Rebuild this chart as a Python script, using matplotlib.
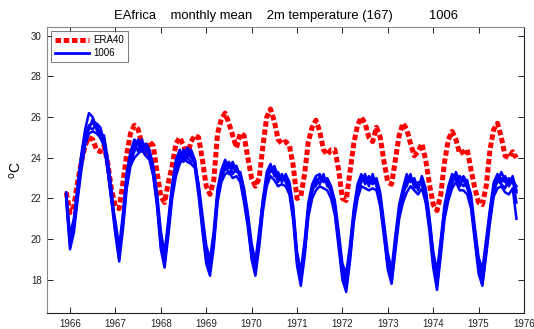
import numpy as np
import matplotlib
matplotlib.use('Agg')
import matplotlib.pyplot as plt

plt.rcParams['font.family'] = ['Liberation Sans', 'DejaVu Sans']

# monthly time axis 1966-1975
start_year = 1966
n_months = 120
years = [1966, 1967, 1968, 1969, 1970, 1971, 1972, 1973, 1974, 1975, 1976]
yticks = [18, 20, 22, 24, 26, 28, 30]

# ERA40 monthly mean 2m temperature (deg C)
era40 = [
    22.3, 21.3, 21.6, 22.8, 23.8, 24.6, 25.0, 24.9, 24.4, 24.3, 24.6, 23.7,
    22.4, 21.6, 21.5, 22.8, 24.2, 25.2, 25.6, 25.4, 24.7, 24.2, 24.8, 24.6,
    23.3, 22.1, 21.8, 22.8, 23.6, 24.7, 25.0, 24.6, 24.1, 24.8, 25.1, 25.0,
    23.9, 22.6, 22.2, 22.9, 25.2, 25.9, 26.2, 25.7, 25.1, 24.5, 25.2, 25.1,
    24.0, 23.0, 22.6, 23.0, 24.6, 26.0, 26.4, 25.8, 24.9, 24.7, 24.8, 24.6,
    23.6, 22.0, 22.1, 23.2, 24.8, 25.5, 25.85, 25.3, 24.4, 24.15, 24.4, 24.4,
    23.4, 22.0, 21.9, 23.3, 24.7, 25.6, 26.0, 25.7, 25.0, 24.8, 25.5, 25.0,
    23.8, 22.8, 22.7, 23.9, 25.1, 25.7, 25.4, 24.7, 24.1, 24.3, 24.7, 23.9,
    22.7, 21.7, 21.4, 22.2, 23.8, 24.9, 25.3, 24.9, 24.2, 24.3, 24.4, 23.4,
    22.5, 21.8, 21.7, 22.6, 24.4, 25.4, 25.7, 25.0, 24.1, 24.0, 24.3, 24.0,
]

# experiment 1006 ensemble members
member_a = [
    22.1, 19.8, 20.6, 22.3, 23.8, 25.0, 25.6, 25.7, 25.5, 25.3, 24.9, 23.7,
    22.2, 20.6, 19.2, 20.9, 22.9, 24.0, 24.5, 24.8, 24.6, 24.5, 24.2, 23.4,
    22.0, 19.9, 18.9, 20.6, 22.4, 23.5, 24.0, 24.3, 24.3, 24.0, 23.8, 22.4,
    20.8, 19.2, 18.6, 20.0, 22.2, 23.1, 23.5, 23.7, 23.5, 23.4, 23.1, 22.2,
    21.0, 19.4, 18.5, 20.0, 21.7, 23.0, 23.5, 23.4, 23.0, 23.0, 23.0, 22.6,
    21.3, 19.0, 18.0, 19.5, 21.5, 22.4, 22.8, 23.0, 23.0, 22.8, 22.4, 21.6,
    20.0, 18.4, 17.8, 19.3, 21.2, 22.4, 23.0, 22.9, 22.8, 23.0, 22.8, 22.0,
    20.5, 18.9, 18.1, 19.8, 21.4, 22.2, 22.8, 23.0, 22.7, 22.6, 22.9, 22.2,
    20.8, 19.0, 17.9, 19.6, 21.4, 22.3, 22.9, 23.2, 23.0, 22.9, 22.6, 21.9,
    20.3, 18.7, 18.0, 19.6, 21.2, 22.5, 23.0, 23.0, 22.8, 22.9, 23.0, 21.8,
]
member_b = [
    22.3, 20.2, 21.0, 22.6, 24.2, 25.4, 26.2, 26.0, 25.4, 25.0, 24.6, 23.4,
    21.8, 20.9, 19.6, 21.3, 23.3, 24.3, 24.9, 24.7, 24.3, 24.7, 24.4, 23.6,
    22.3, 20.4, 19.3, 21.0, 22.7, 23.9, 24.4, 24.0, 24.5, 24.2, 23.6, 22.7,
    21.2, 19.7, 19.0, 20.4, 22.5, 23.4, 23.9, 23.5, 23.8, 23.3, 23.3, 22.5,
    21.3, 19.8, 18.9, 20.4, 22.0, 23.3, 23.7, 23.1, 23.3, 22.8, 23.2, 22.8,
    21.6, 19.4, 18.4, 19.9, 21.8, 22.7, 23.1, 23.2, 22.8, 23.0, 22.6, 21.9,
    20.4, 18.8, 18.3, 19.7, 21.5, 22.7, 23.2, 22.7, 23.1, 22.8, 23.0, 22.3,
    20.8, 19.3, 18.5, 20.2, 21.7, 22.5, 23.2, 22.8, 23.0, 22.4, 23.1, 22.5,
    21.1, 19.4, 18.4, 20.0, 21.7, 22.6, 23.2, 23.0, 22.6, 23.1, 22.8, 22.2,
    20.6, 19.1, 18.5, 20.0, 21.5, 22.8, 23.2, 22.8, 23.1, 22.7, 23.1, 22.3,
]
member_c = [
    21.9, 19.5, 20.3, 21.9, 23.4, 24.6, 25.2, 25.3, 25.2, 25.0, 24.6, 23.3,
    21.8, 20.2, 18.9, 20.5, 22.5, 23.6, 24.0, 24.2, 24.4, 24.1, 23.9, 23.1,
    21.6, 19.5, 18.6, 20.2, 22.0, 23.1, 23.7, 24.0, 23.8, 23.7, 23.5, 22.1,
    20.4, 18.8, 18.2, 19.6, 21.8, 22.8, 23.2, 23.3, 23.0, 23.1, 22.8, 21.8,
    20.6, 19.0, 18.2, 19.6, 21.4, 22.6, 23.1, 22.9, 22.6, 22.7, 22.6, 22.2,
    20.9, 18.7, 17.7, 19.1, 21.1, 22.0, 22.4, 22.6, 22.5, 22.4, 22.0, 21.2,
    19.6, 18.0, 17.4, 18.9, 20.8, 22.0, 22.6, 22.5, 22.4, 22.5, 22.4, 21.6,
    20.1, 18.5, 17.8, 19.4, 21.0, 21.8, 22.3, 22.6, 22.4, 22.2, 22.5, 21.8,
    20.4, 18.6, 17.5, 19.2, 21.0, 21.9, 22.5, 22.8, 22.4, 22.4, 22.2, 21.5,
    19.9, 18.3, 17.7, 19.2, 20.8, 22.1, 22.5, 22.6, 22.3, 22.2, 22.5, 21.0,
]
member_d = [
    22.0, 19.7, 20.8, 22.5, 24.0, 25.2, 25.4, 25.9, 25.6, 25.1, 25.1, 23.9,
    22.4, 20.5, 19.0, 21.1, 23.1, 24.2, 24.8, 24.3, 24.9, 24.3, 24.2, 23.2,
    21.8, 19.7, 18.8, 20.8, 22.6, 23.3, 24.3, 23.8, 24.1, 24.4, 23.9, 22.3,
    20.6, 19.0, 18.4, 20.2, 22.3, 22.9, 23.7, 23.2, 23.6, 23.6, 23.0, 22.0,
    20.8, 19.2, 18.3, 20.2, 21.9, 22.8, 23.6, 23.3, 22.8, 23.2, 22.8, 22.4,
    21.1, 18.9, 17.9, 19.7, 21.6, 22.3, 23.0, 22.7, 23.2, 22.6, 22.5, 21.4,
    19.8, 18.2, 17.6, 19.1, 21.0, 22.3, 22.8, 23.2, 22.6, 23.2, 22.6, 21.8,
    20.3, 18.7, 17.9, 19.6, 21.2, 22.4, 22.6, 23.2, 22.5, 22.8, 22.7, 22.0,
    20.6, 18.8, 17.7, 19.4, 21.2, 22.1, 22.7, 23.3, 22.8, 22.6, 22.9, 21.7,
    20.1, 18.5, 17.8, 19.4, 21.0, 22.3, 22.9, 22.7, 22.5, 23.0, 22.8, 22.4,
]
member_e = [
    22.2, 20.0, 20.5, 22.1, 23.6, 24.8, 25.5, 25.4, 25.7, 25.5, 24.8, 23.6,
    22.0, 20.4, 19.3, 20.7, 22.8, 23.8, 24.3, 24.9, 24.5, 24.6, 24.0, 23.3,
    21.9, 20.1, 19.0, 20.4, 22.2, 23.7, 23.9, 24.4, 24.0, 23.8, 23.9, 22.6,
    20.9, 19.3, 18.7, 19.8, 22.0, 23.2, 23.4, 23.8, 23.2, 23.5, 23.2, 22.3,
    21.1, 19.5, 18.6, 19.8, 21.6, 23.1, 23.3, 23.6, 23.1, 22.9, 23.1, 22.5,
    21.4, 19.1, 18.1, 19.3, 21.3, 22.5, 22.6, 23.1, 22.9, 22.9, 22.3, 21.7,
    20.1, 18.5, 18.0, 19.5, 21.3, 22.5, 22.9, 23.0, 22.9, 22.7, 22.9, 22.1,
    20.6, 19.0, 18.3, 19.9, 21.5, 22.1, 23.0, 22.9, 22.9, 22.5, 23.0, 22.3,
    20.9, 19.2, 18.1, 19.8, 21.5, 22.4, 23.0, 22.9, 23.1, 22.9, 22.5, 22.0,
    20.4, 18.9, 18.2, 19.8, 21.3, 22.6, 22.8, 23.3, 22.9, 22.6, 22.9, 22.6,
]
members = [member_a, member_b, member_c, member_d, member_e]

t = start_year - 1 / 12 + np.arange(n_months) / 12

fig = plt.figure(figsize=(5.34, 3.29), dpi=100, facecolor='white')
ax = fig.add_axes([0.0886, 0.0477, 0.8927, 0.8693])

ax.plot(t, era40, color='#ff0000', lw=3.6, linestyle=(0, (1.1, 0.55)),
        dash_capstyle='butt', label='ERA40', zorder=2)
for i, m in enumerate(members):
    ax.plot(t, m, color='#0000ff', lw=1.8, zorder=3,
            label='1006' if i == 0 else None)

ax.set_xlim(1965.5, 1976)
ax.set_ylim(16.35, 30.42)
ax.set_xticks(years)
ax.set_yticks(yticks)
ax.tick_params(direction='in', length=4, width=0.7, labelsize=7,
               top=True, right=True, colors='#222222', pad=4)
for s in ['left', 'top']:
    ax.spines[s].set_color('#888888')
for s in ['bottom', 'right']:
    ax.spines[s].set_color('#222222')
for s in ax.spines.values():
    s.set_linewidth(0.8)

ax.set_title('EAfrica    monthly mean    2m temperature (167)          1006',
             fontsize=9.4, pad=6)
ax.set_ylabel(r'$^{\rm o}$C', fontsize=10, labelpad=5)

leg = ax.legend(loc='upper left', fontsize=7, frameon=True, fancybox=False,
                edgecolor='#555555', handlelength=3.5, borderpad=0.4,
                labelspacing=0.35, handletextpad=0.4, borderaxespad=0.4)
leg.get_frame().set_linewidth(0.7)
for h in leg.get_lines():
    h.set_linewidth(2.0)
leg.get_lines()[0].set_linewidth(3.6)

fig.savefig('out.png', dpi=100)
